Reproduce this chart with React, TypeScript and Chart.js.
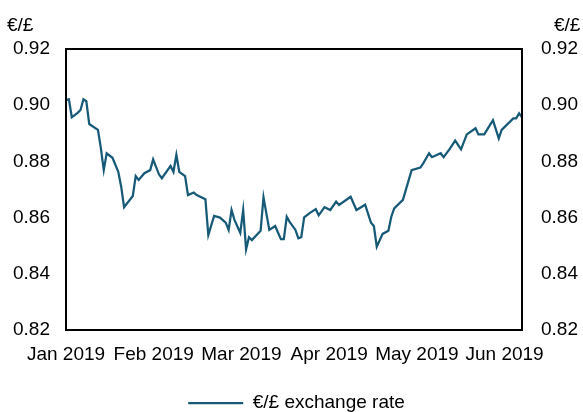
import React, { useEffect, useRef } from 'react';
import { Chart, registerables } from 'chart.js';

Chart.register(...registerables);

// Days since 1 Jan 2019 for each observation
const dayOffsets = [
  0, 1, 2, 4, 5, 6, 7, 8, 11, 12, 13, 14, 16, 18, 19, 20, 23, 24, 25, 27,
  29, 30, 32, 33, 36, 37, 38, 39, 41, 42, 44, 45, 48, 49, 51, 53, 55, 56, 57, 58,
  60, 61, 62, 63, 64, 67, 68, 70, 72, 74, 75, 76, 77, 79, 80, 81, 82, 84, 86, 87,
  89, 91, 93, 94, 98, 100, 103, 105, 106, 107, 109, 111, 112, 113, 116, 119, 122, 123, 125, 126,
  129, 130, 132, 134, 136, 138, 141, 142, 144, 147, 149, 150, 154, 155, 156, 157,
];

// €/£ exchange rate
const rates = [
  0.9019, 0.9021, 0.8957, 0.8973, 0.8983, 0.9021, 0.9014, 0.8933, 0.8912, 0.8847,
  0.8769, 0.8829, 0.8813, 0.8763, 0.871, 0.8637, 0.8677, 0.8748, 0.8734, 0.8758,
  0.8769, 0.8807, 0.8754, 0.874, 0.8784, 0.8763, 0.8823, 0.8763, 0.8748, 0.868,
  0.8689, 0.868, 0.8665, 0.8538, 0.8606, 0.86, 0.8582, 0.8556, 0.8627, 0.8592,
  0.8546, 0.8627, 0.8487, 0.853, 0.852, 0.8553, 0.8672, 0.8556, 0.857, 0.8523,
  0.8523, 0.8603, 0.8585, 0.8556, 0.8526, 0.853, 0.8601, 0.8617, 0.863, 0.8608,
  0.8637, 0.8627, 0.8657, 0.8645, 0.8674, 0.8627, 0.8646, 0.8582, 0.857, 0.8496,
  0.8542, 0.8553, 0.8603, 0.8633, 0.8663, 0.8769, 0.8778, 0.8793, 0.8829, 0.8815,
  0.8829, 0.8815, 0.8843, 0.8874, 0.8843, 0.8896, 0.8918, 0.8896, 0.8896, 0.8947,
  0.8882, 0.8912, 0.8953, 0.8953, 0.8971, 0.8957,
];

// Month label positions (evenly spaced on the reference axis)
const monthTickDays = [0, 30.2, 60.4, 90.6, 120.8, 151];
const monthTickLabels = ['Jan 2019', 'Feb 2019', 'Mar 2019', 'Apr 2019', 'May 2019', 'Jun 2019'];
const rateTicks = [0.82, 0.84, 0.86, 0.88, 0.9, 0.92];
const seriesLabel = '€/£ exchange rate';
const axisUnit = '€/£';

const FONT = '"Liberation Sans", Arial, sans-serif';
const FONT_SIZE = 19;
const LINE_COLOR = '#175a78';

const framePlugin = {
  id: 'frameAndUnits',
  afterDatasetsDraw(chart: any) {
    const { ctx, chartArea: a } = chart;
    ctx.save();
    ctx.strokeStyle = '#000';
    ctx.lineWidth = 2;
    ctx.strokeRect(a.left, a.top, a.right - a.left, a.bottom - a.top);
    ctx.restore();
  },
  afterDraw(chart: any) {
    const { ctx, chartArea: a } = chart;
    ctx.save();
    ctx.font = `${FONT_SIZE}px ${FONT}`;
    ctx.fillStyle = '#000';
    ctx.textBaseline = 'middle';
    ctx.textAlign = 'left';
    ctx.fillText(axisUnit, a.left - 59, a.top - 23);
    ctx.fillText(axisUnit, a.right + 32, a.top - 23);
    ctx.restore();
  },
};

export default function App() {
  const canvasRef = useRef<HTMLCanvasElement | null>(null);

  useEffect(() => {
    if (!canvasRef.current) return;
    const points = dayOffsets.map((d, i) => ({ x: d, y: rates[i] }));
    const font = { family: FONT, size: FONT_SIZE };
    const yCommon = {
      min: rateTicks[0],
      max: rateTicks[rateTicks.length - 1],
      grid: { display: false, drawTicks: false },
      border: { display: false },
      afterBuildTicks: (s: any) => {
        s.ticks = rateTicks.map((v) => ({ value: v }));
      },
    };
    const chart = new Chart(canvasRef.current, {
      type: 'line',
      data: {
        datasets: [
          {
            label: seriesLabel,
            data: points,
            borderColor: LINE_COLOR,
            backgroundColor: LINE_COLOR,
            borderWidth: 2.25,
            pointRadius: 0,
            tension: 0,
            fill: false,
            yAxisID: 'y',
          },
        ],
      },
      options: {
        animation: false,
        responsive: false,
        maintainAspectRatio: false,
        layout: { padding: { top: 49, left: 10, right: 0, bottom: -10.5 } },
        plugins: {
          tooltip: { enabled: false },
          legend: {
            position: 'bottom',
            labels: {
              usePointStyle: true,
              pointStyle: 'line',
              pointStyleWidth: 55,
              padding: 2,
              color: '#000',
              font,
            },
          },
        },
        scales: {
          x: {
            type: 'linear',
            min: dayOffsets[0],
            max: dayOffsets[dayOffsets.length - 1],
            grid: { display: false, drawTicks: false },
            border: { display: false },
            afterBuildTicks: (s: any) => {
              s.ticks = monthTickDays.map((v) => ({ value: v }));
            },
            afterFit: (s: any) => {
              s.height = 61.5;
            },
            ticks: {
              autoSkip: false,
              maxRotation: 0,
              minRotation: 0,
              padding: 13,
              color: '#000',
              font,
              callback: (v: any, i: number) => monthTickLabels[i] ?? '',
            },
          },
          y: {
            ...yCommon,
            position: 'left',
            afterFit: (s: any) => {
              s.width = 56;
            },
            ticks: {
              padding: 16,
              color: '#000',
              font,
              callback: (v: any) => Number(v).toFixed(2),
            },
          },
          y1: {
            ...yCommon,
            position: 'right',
            afterFit: (s: any) => {
              s.width = 61;
            },
            ticks: {
              padding: 19,
              color: '#000',
              font,
              callback: (v: any) => Number(v).toFixed(2),
            },
          },
        },
      } as any,
      plugins: [framePlugin],
    });
    return () => chart.destroy();
  }, []);

  return (
    <div style={{ position: 'fixed', left: 0, top: 0, width: 583, height: 412, background: '#fff' }}>
      <canvas ref={canvasRef} width={583} height={412} style={{ display: 'block', width: 583, height: 412 }} />
    </div>
  );
}
